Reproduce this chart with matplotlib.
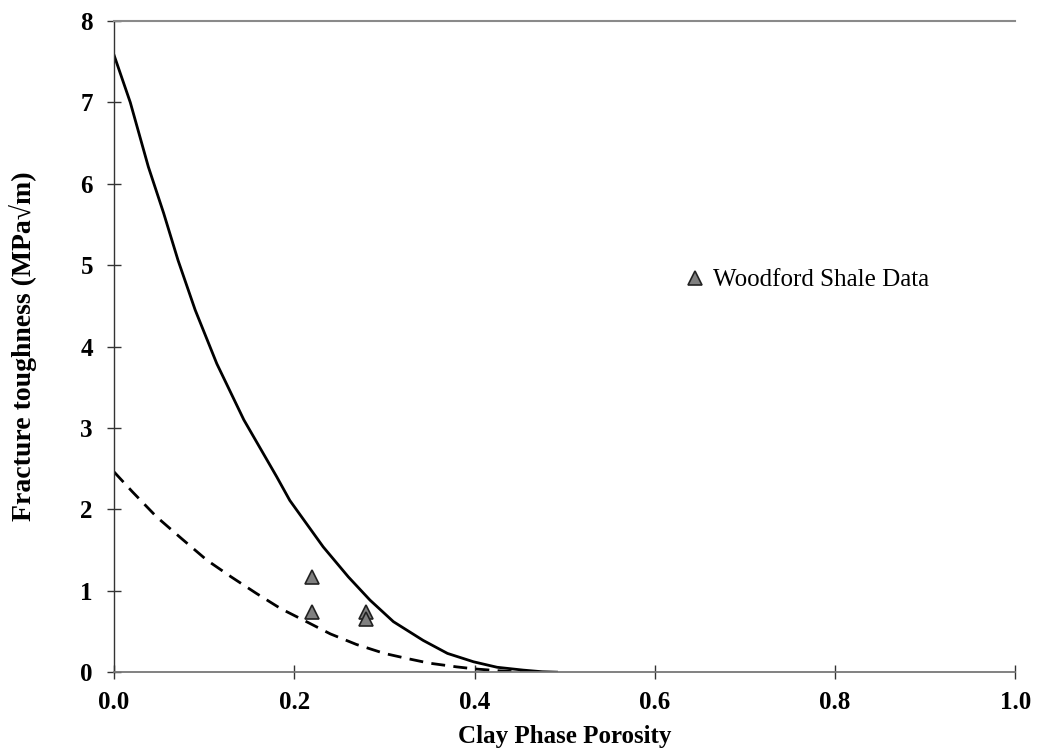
import matplotlib
matplotlib.use("Agg")
import matplotlib.pyplot as plt

plt.rcParams["font.family"] = ["Liberation Serif", "DejaVu Serif"]

# Upper bound curve (solid)
solid_x = [0.0, 0.018, 0.038, 0.055, 0.071, 0.09, 0.114, 0.144, 0.1805, 0.195, 0.232,
           0.26, 0.284, 0.31, 0.343, 0.37, 0.399, 0.425, 0.454, 0.475, 0.491]
solid_y = [7.58, 7.00, 6.21, 5.64, 5.06, 4.45, 3.79, 3.10, 2.40, 2.11, 1.54,
           1.17, 0.885, 0.62, 0.39, 0.23, 0.127, 0.06, 0.025, 0.005, 0.0]

# Lower bound curve (dashed)
dash_x = [0.0, 0.02, 0.047, 0.075, 0.103, 0.13, 0.158, 0.185, 0.21, 0.24, 0.269,
          0.30, 0.325, 0.35, 0.38, 0.40, 0.428, 0.44, 0.47]
dash_y = [2.46, 2.22, 1.91, 1.64, 1.376, 1.17, 0.967, 0.78, 0.64, 0.47, 0.34,
          0.23, 0.168, 0.11, 0.065, 0.04, 0.016, 0.008, 0.0]

# Woodford Shale measurements
wood_x = [0.22, 0.22, 0.28, 0.28]
wood_y = [1.17, 0.74, 0.74, 0.65]

fig = plt.figure(figsize=(10.37, 7.51), dpi=100)
ax = fig.add_axes([0.110, 0.105, 0.869, 0.867])

ax.plot(solid_x, solid_y, color="black", lw=2.0)
ax.plot(dash_x, dash_y, color="black", lw=2.0, ls=(0, (5, 3)))
ax.plot(wood_x, wood_y, ls="none", marker="^", ms=9.5, mfc="#808080",
        mec="#222222", mew=1.2, label="Woodford Shale Data")

ax.set_xlim(0, 1.0)
ax.set_ylim(0, 8)
ax.set_xticks([0.0, 0.2, 0.4, 0.6, 0.8, 1.0])
ax.set_xticklabels(["0.0", "0.2", "0.4", "0.6", "0.8", "1.0"])
ax.set_yticks(range(0, 9))

ax.spines["right"].set_visible(False)
ax.spines["top"].set_color("#8a8a8a")
ax.spines["top"].set_linewidth(1.5)
ax.spines["bottom"].set_color("#777777")
ax.spines["bottom"].set_linewidth(1.3)
ax.spines["left"].set_color("#333333")
ax.spines["left"].set_linewidth(1.0)

ax.tick_params(axis="both", direction="inout", length=10.5, width=1.0, color="#333333",
               labelsize=18)
ax.tick_params(axis="x", pad=8)
ax.tick_params(axis="y", pad=10)
for lab in ax.get_xticklabels() + ax.get_yticklabels():
    lab.set_fontweight("bold")

ax.set_xlabel("Clay Phase Porosity", fontsize=18, fontweight="bold", labelpad=8)
ax.set_ylabel("Fracture toughness (MPa\u221am)", fontsize=20, fontweight="bold")
ax.yaxis.set_label_coords(-0.085, 0.5)

ax.legend(loc="center left", bbox_to_anchor=(0.606, 0.602), frameon=False,
          fontsize=18, handlelength=1.0, handletextpad=0.2)

fig.savefig("out.png", dpi=100)
